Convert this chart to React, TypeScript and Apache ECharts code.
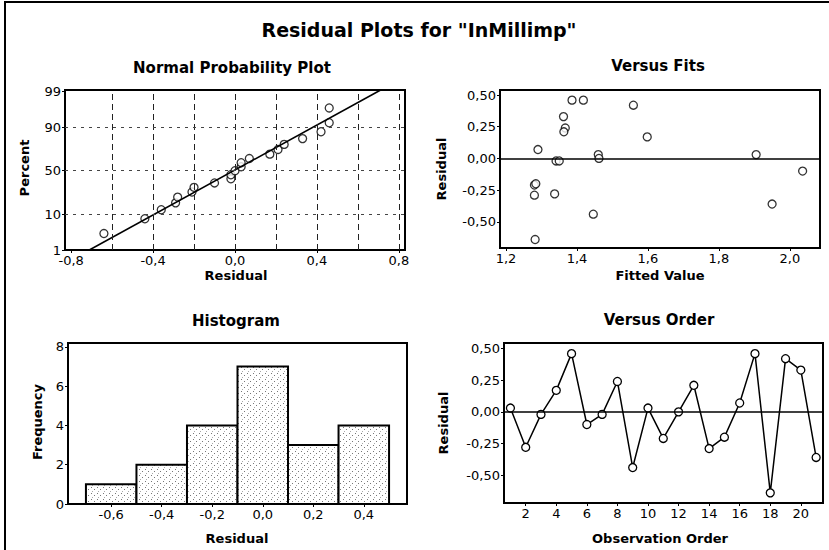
import React, { useEffect, useRef } from "react";
import * as echarts from "echarts";

// ---------- data ----------
const observationOrder = [1, 2, 3, 4, 5, 6, 7, 8, 9, 10, 11, 12, 13, 14, 15, 16, 17, 18, 19, 20, 21];
const residuals = [0.03, -0.28, -0.02, 0.17, 0.46, -0.10, -0.02, 0.24, -0.44, 0.03, -0.21, 0.0, 0.21, -0.29, -0.20, 0.07, 0.46, -0.64, 0.42, 0.33, -0.36];
const fittedValues = [1.905, 1.337, 1.341, 1.598, 1.418, 2.036, 1.35, 1.367, 1.446, 1.46, 1.28, 1.462, 1.363, 1.28, 1.284, 1.29, 1.386, 1.282, 1.559, 1.362, 1.95];

const histBinCenters = [-0.6, -0.4, -0.2, 0.0, 0.2, 0.4];
const histCounts = [1, 2, 4, 7, 3, 4];
const histBinWidth = 0.2;

const probTicks = [1, 10, 50, 90, 99];
const probGridLines = [10, 50, 90];
const normalXTicks = [-0.8, -0.4, 0.0, 0.4, 0.8];
const normalXGridLines = [-0.6, -0.4, -0.2, 0.0, 0.2, 0.4, 0.6, 0.8];
const residualTicks = [-0.5, -0.25, 0.0, 0.25, 0.5];
const fitTicks = [1.2, 1.4, 1.6, 1.8, 2.0];
const histXTicks = [-0.6, -0.4, -0.2, 0.0, 0.2, 0.4];
const histYTicks = [0, 2, 4, 6, 8];
const orderTicks = [2, 4, 6, 8, 10, 12, 14, 16, 18, 20];

const mainTitle = 'Residual Plots for "InMillimp"';

// ---------- helpers ----------
function probit(p: number): number {
  const a = [-3.969683028665376e1, 2.209460984245205e2, -2.759285104469687e2, 1.38357751867269e2, -3.066479806614716e1, 2.506628277459239];
  const b = [-5.447609879822406e1, 1.615858368580409e2, -1.556989798598866e2, 6.680131188771972e1, -1.328068155833272e1];
  const c = [-7.784894002430293e-3, -3.223964580411365e-1, -2.400758277161838, -2.549732539343734, 4.374664141464968, 2.938163982698783];
  const d = [7.784695709041462e-3, 3.224671290700398e-1, 2.445134137142996, 3.754408661907416];
  const pl = 0.02425;
  if (p < pl) {
    const q = Math.sqrt(-2 * Math.log(p));
    return (((((c[0] * q + c[1]) * q + c[2]) * q + c[3]) * q + c[4]) * q + c[5]) / ((((d[0] * q + d[1]) * q + d[2]) * q + d[3]) * q + 1);
  }
  if (p <= 1 - pl) {
    const q = p - 0.5;
    const r = q * q;
    return ((((((a[0] * r + a[1]) * r + a[2]) * r + a[3]) * r + a[4]) * r + a[5]) * q) / (((((b[0] * r + b[1]) * r + b[2]) * r + b[3]) * r + b[4]) * r + 1);
  }
  const q = Math.sqrt(-2 * Math.log(1 - p));
  return -(((((c[0] * q + c[1]) * q + c[2]) * q + c[3]) * q + c[4]) * q + c[5]) / ((((d[0] * q + d[1]) * q + d[2]) * q + d[3]) * q + 1);
}

const fmt = (v: number, dec: number) => v.toFixed(dec).replace(".", ",");
const FONT = "'DejaVu Sans', Verdana, sans-serif";

function makeDotPattern(): string | null {
  try {
    const cv = document.createElement("canvas");
    cv.width = 6;
    cv.height = 6;
    const ctx = cv.getContext("2d");
    if (!ctx) return null;
    ctx.fillStyle = "#ffffff";
    ctx.fillRect(0, 0, 6, 6);
    ctx.fillStyle = "#777777";
    ctx.fillRect(1, 1, 1, 1);
    ctx.fillRect(4, 3, 1, 1);
    ctx.fillStyle = "#aaaaaa";
    ctx.fillRect(2, 5, 1, 1);
    return cv.toDataURL();
  } catch (e) {
    return null;
  }
}

function valueAxis(gridIndex: number, min: number, max: number, ticks: number[], formatter: (v: number) => string) {
  return {
    type: "value",
    gridIndex,
    min,
    max,
    axisLine: { show: true, onZero: false, lineStyle: { color: "#000", width: 2 } },
    axisTick: { show: true, customValues: ticks, length: 3, inside: false, lineStyle: { color: "#000", width: 1 } },
    axisLabel: { show: true, customValues: ticks, formatter, color: "#000", fontSize: 13, fontFamily: FONT, margin: 4 },
    splitLine: { show: false },
  };
}

export default function App() {
  const ref = useRef<HTMLDivElement>(null);

  useEffect(() => {
    if (!ref.current) return;
    const chart = echarts.init(ref.current, undefined, { renderer: "svg" });

    const n = residuals.length;
    const mean = residuals.reduce((s, v) => s + v, 0) / n;
    const sd = Math.sqrt(residuals.reduce((s, v) => s + (v - mean) * (v - mean), 0) / (n - 1));
    const sorted = [...residuals].sort((x, y) => x - y);
    const normalPoints = sorted.map((r, i) => [r, probit((i + 1 - 0.3) / (n + 0.4))]);
    const zMin = probit(probTicks[0] / 100);
    const zMax = 2.37;
    const fitLine = [
      [mean + sd * zMin, zMin],
      [mean + sd * zMax, zMax],
    ];
    const probFormatter = (v: number) => {
      let best = probTicks[0];
      let bd = Infinity;
      for (const p of probTicks) {
        const d = Math.abs(probit(p / 100) - v);
        if (d < bd) {
          bd = d;
          best = p;
        }
      }
      return String(best);
    };

    const pattern = makeDotPattern();
    const barFill: any = pattern ? { image: pattern, repeat: "repeat" } : "#e6e6e6";

    const circleStyle = { color: "#fff", borderColor: "#000", borderWidth: 1.3 };
    const dashed = { color: "#222", width: 1, type: [6, 4] as any };

    const gridBox = { show: true, borderColor: "#000", borderWidth: 2, backgroundColor: "transparent", containLabel: false };

    const titleText = (text: string, x: number, y: number, size: number) => ({
      type: "text",
      x,
      y,
      silent: true,
      style: { text, fill: "#000", font: `bold ${size}px ${FONT}`, textAlign: "center", textVerticalAlign: "middle" },
    });
    const vText = (text: string, x: number, y: number) => ({
      type: "text",
      x,
      y,
      rotation: Math.PI / 2,
      silent: true,
      style: { text, fill: "#000", font: `bold 13px ${FONT}`, textAlign: "center", textVerticalAlign: "middle" },
    });

    const option: any = {
      animation: false,
      backgroundColor: "#fff",
      grid: [
        { ...gridBox, left: 65, top: 90, width: 340, height: 160 },
        { ...gridBox, left: 500, top: 90, width: 320, height: 158 },
        { ...gridBox, left: 68, top: 343, width: 339, height: 161 },
        { ...gridBox, left: 504, top: 343, width: 319, height: 160 },
      ],
      xAxis: [
        valueAxis(0, -0.83, 0.83, normalXTicks, (v) => fmt(v, 1)),
        valueAxis(1, 1.183, 2.085, fitTicks, (v) => fmt(v, 1)),
        valueAxis(2, -0.771, 0.571, histXTicks, (v) => fmt(v, 1)),
        valueAxis(3, 0.58, 21.45, orderTicks, (v) => String(Math.round(v))),
      ],
      yAxis: [
        valueAxis(0, zMin, zMax, probTicks.map((p) => probit(p / 100)), probFormatter),
        valueAxis(1, -0.707, 0.54, residualTicks, (v) => fmt(v, 2)),
        valueAxis(2, 0, 8.2, histYTicks, (v) => String(v)),
        valueAxis(3, -0.72, 0.544, residualTicks, (v) => fmt(v, 2)),
      ],
      graphic: [
        {
          type: "rect",
          shape: { x: 5, y: 2, width: 900, height: 600 },
          style: { fill: "none", stroke: "#000", lineWidth: 2 },
          silent: true,
        },
        titleText(mainTitle, 419, 30, 19),
        titleText("Normal Probability Plot", 232, 68, 15),
        titleText("Versus Fits", 658, 66, 15),
        titleText("Histogram", 236, 321, 15),
        titleText("Versus Order", 659, 320, 15),
        titleText("Residual", 236, 275, 13),
        titleText("Fitted Value", 660, 275, 13),
        titleText("Residual", 237, 538, 13),
        titleText("Observation Order", 660, 538, 13),
        vText("Percent", 24, 168),
        vText("Residual", 441, 169),
        vText("Frequency", 37, 422),
        vText("Residual", 443, 423),
      ],
      series: [
        // normal probability plot: grid lines
        {
          type: "line",
          xAxisIndex: 0,
          yAxisIndex: 0,
          data: [],
          silent: true,
          markLine: {
            silent: true,
            symbol: "none",
            label: { show: false },
            lineStyle: dashed,
            data: [
              ...normalXGridLines.map((v) => ({ xAxis: v })),
              ...probGridLines.map((p) => ({ yAxis: probit(p / 100), lineStyle: { color: "#444", width: 1, type: [3, 5] } })),
            ],
          },
        },
        {
          type: "line",
          xAxisIndex: 0,
          yAxisIndex: 0,
          data: fitLine,
          symbol: "none",
          clip: true,
          lineStyle: { color: "#000", width: 1.5 },
          silent: true,
        },
        {
          type: "scatter",
          xAxisIndex: 0,
          yAxisIndex: 0,
          data: normalPoints,
          symbol: "circle",
          symbolSize: 8,
          itemStyle: circleStyle,
          silent: true,
        },
        // versus fits
        {
          type: "scatter",
          xAxisIndex: 1,
          yAxisIndex: 1,
          data: fittedValues.map((f, i) => [f, residuals[i]]),
          symbol: "circle",
          symbolSize: 8,
          itemStyle: circleStyle,
          silent: true,
          markLine: {
            silent: true,
            symbol: "none",
            label: { show: false },
            lineStyle: { color: "#000", width: 1.5, type: "solid" },
            data: [{ yAxis: 0 }],
          },
          z: 3,
        },
        // histogram
        {
          type: "custom",
          xAxisIndex: 2,
          yAxisIndex: 2,
          data: histBinCenters.map((c, i) => [c, histCounts[i]]),
          silent: true,
          renderItem: (params: any, api: any) => {
            const c = api.value(0);
            const h = api.value(1);
            const p0 = api.coord([c - histBinWidth / 2, h]);
            const p1 = api.coord([c + histBinWidth / 2, 0]);
            return {
              type: "rect",
              shape: { x: p0[0], y: p0[1], width: p1[0] - p0[0], height: p1[1] - p0[1] },
              style: { fill: barFill, stroke: "#000", lineWidth: 2 },
            };
          },
        },
        // versus order
        {
          type: "line",
          xAxisIndex: 3,
          yAxisIndex: 3,
          data: observationOrder.map((o, i) => [o, residuals[i]]),
          symbol: "circle",
          symbolSize: 8,
          showAllSymbol: true,
          itemStyle: circleStyle,
          lineStyle: { color: "#000", width: 1.5 },
          silent: true,
          markLine: {
            silent: true,
            symbol: "none",
            label: { show: false },
            lineStyle: { color: "#000", width: 1.5, type: "solid" },
            data: [{ yAxis: 0 }],
          },
        },
      ],
    };

    chart.setOption(option);
    return () => chart.dispose();
  }, []);

  return (
    <div
      ref={ref}
      style={{ position: "absolute", left: 0, top: 0, width: 829, height: 550, background: "#fff" }}
    />
  );
}
